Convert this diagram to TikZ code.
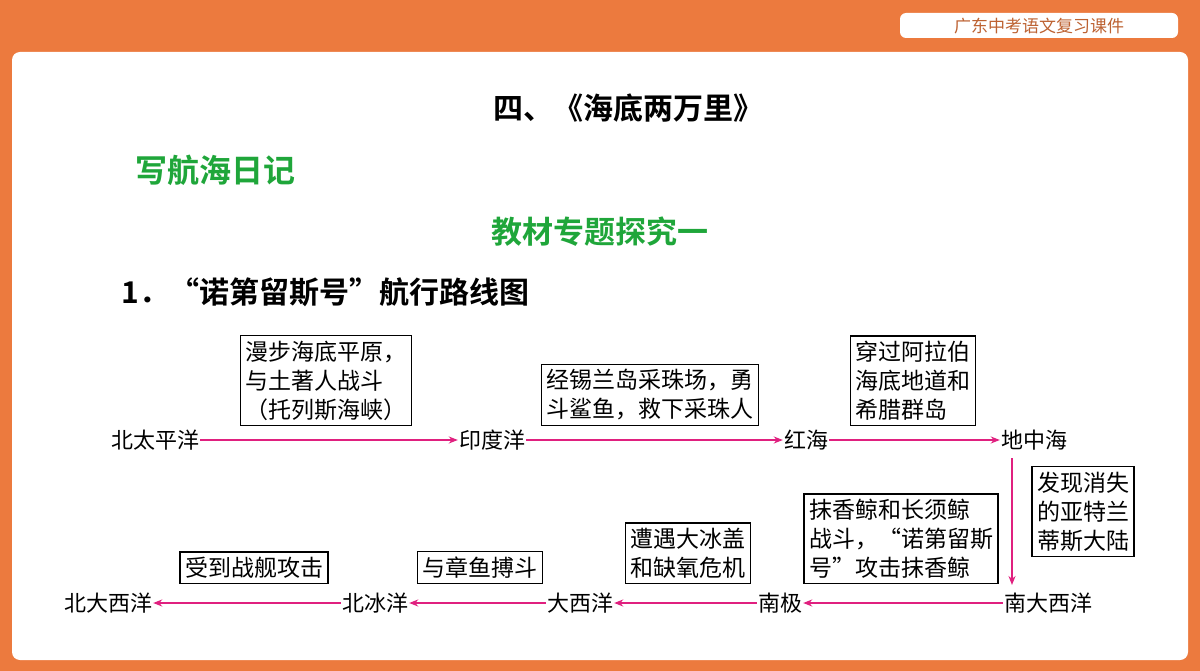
\documentclass[tikz,border=0pt]{standalone}
\usepackage{fontspec}
\setmainfont{Noto Sans CJK SC}[BoldFont={Noto Sans CJK SC Bold}]
\usetikzlibrary{positioning}
\usetikzlibrary{arrows.meta}
\definecolor{slideorange}{HTML}{EC7A3E}
\definecolor{titlegreen}{HTML}{1FA63A}
\definecolor{routecolor}{HTML}{E0207F}
\tikzset{
    place/.style = {font=\fontsize{22}{24}\selectfont, inner sep=1pt},
    event/.style = {draw, line width=1.4pt, align=left, inner sep=5pt,
        font=\fontsize{23}{29}\selectfont},
    route/.style = {-{Stealth[length=9pt, width=7pt]}, draw=routecolor, line width=1.5pt},
}
\begin{document}
\begin{tikzpicture}[x=1pt, y=-1pt]
\useasboundingbox (0,0) rectangle (1200,671);
\fill[slideorange] (0,0) rectangle (1200,671);
\fill[white, rounded corners=8pt] (12,52) rectangle (1188,660);
\fill[white, rounded corners=6pt] (900,13) rectangle (1178,38);
\node[text=slideorange!80!black, font=\fontsize{17}{18}\selectfont] (banner) at (1039,26) {广东中考语文复习课件};

% headings
\node[font=\fontsize{30}{32}\selectfont\bfseries] (title) at (628,108) {四、《海底两万里》};
\node[text=titlegreen, font=\fontsize{32}{34}\selectfont\bfseries, anchor=west] (diary) at (132,170) {写航海日记};
\node[text=titlegreen, font=\fontsize{31}{34}\selectfont\bfseries] (topic) at (600,232) {教材专题探究一};
\node[font=\fontsize{30}{32}\selectfont\bfseries, anchor=west] (heading) at (118,292) {1．“诺第留斯号”航行路线图};

% places
\node[place] (pacific) at (155,440) {北太平洋};
\node[place] (indian) at (492,440) {印度洋};
\node[place] (redsea) at (806,440) {红海};
\node[place] (medit) at (1034,440) {地中海};
\node[place] (satlantic) at (1048,603) {南大西洋};
\node[place] (southpole) at (780,603) {南极};
\node[place] (atlantic) at (580,603) {大西洋};
\node[place] (arctic) at (375,603) {北冰洋};
\node[place] (natlantic) at (108,603) {北大西洋};
\coordinate (medit-down) at (1012,458);
\coordinate (satlantic-up) at (1012,585);

% routes
\draw[route] (pacific) -- (indian);
\draw[route] (indian) -- (redsea);
\draw[route] (redsea) -- (medit);
\draw[route] (medit-down) -- (satlantic-up);
\draw[route] (satlantic) -- (southpole);
\draw[route] (southpole) -- (atlantic);
\draw[route] (atlantic) -- (arctic);
\draw[route] (arctic) -- (natlantic);

% events
\node[event, anchor=south] (plain) at (326,426) {漫步海底平原，\\与土著人战斗\\（托列斯海峡）};
\node[event, anchor=south] (pearl) at (650,426) {经锡兰岛采珠场，勇\\斗鲨鱼，救下采珠人};
\node[event, anchor=south] (tunnel) at (913,426) {穿过阿拉伯\\海底地道和\\希腊群岛};
\node[event, anchor=north] (atlantis) at (1083,466) {发现消失\\的亚特兰\\蒂斯大陆};
\node[event, anchor=south] (whale) at (901,584) {抹香鲸和长须鲸\\战斗，“诺第留斯\\号”攻击抹香鲸};
\node[event, anchor=south] (ice) at (688,584) {遭遇大冰盖\\和缺氧危机};
\node[event, anchor=south] (octopus) at (480,584) {与章鱼搏斗};
\node[event, anchor=south] (warship) at (254,584) {受到战舰攻击};
\end{tikzpicture}
\end{document}
